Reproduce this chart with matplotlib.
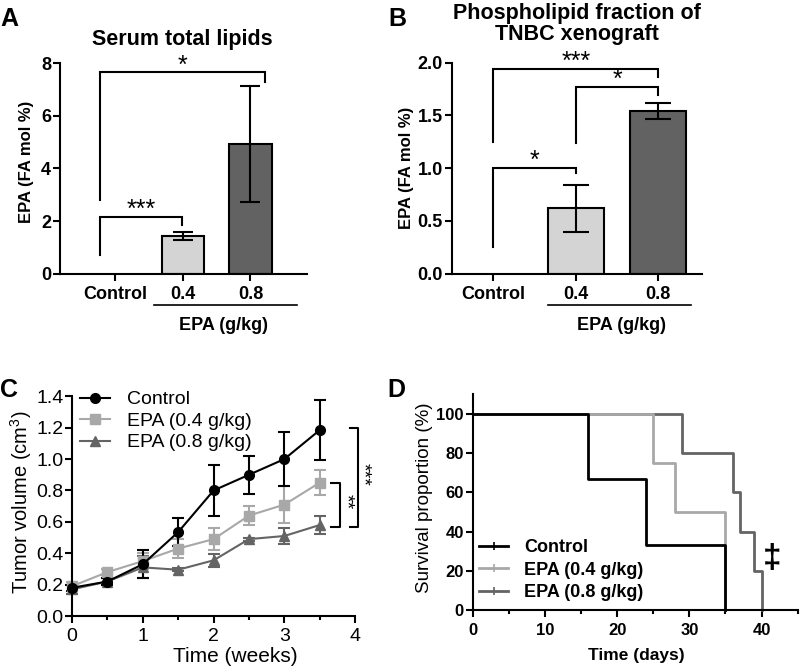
import matplotlib
matplotlib.use("Agg")
import matplotlib.pyplot as plt
from matplotlib.lines import Line2D
from matplotlib.ticker import MultipleLocator, FormatStrFormatter

plt.rcParams['font.family'] = ['Liberation Sans', 'DejaVu Sans']
plt.rcParams['mathtext.default'] = 'regular'
plt.rcParams['axes.linewidth'] = 1.5

# panel A / B : bars
groups = ["Control", "0.4", "0.8"]
serum_mean = [0.0, 1.42, 4.92]
serum_err = [0.0, 0.15, 2.2]
tnbc_mean = [0.0, 0.62, 1.545]
tnbc_err = [0.0, 0.22, 0.077]
bar_colors = ["white", "#d4d4d4", "#626262"]

# panel C : tumor volume
weeks = [0, 0.5, 1, 1.5, 2, 2.5, 3, 3.5]
vol_ctrl = [0.18, 0.22, 0.33, 0.535, 0.80, 0.90, 1.00, 1.185]
vol_ctrl_err = [0.02, 0.02, 0.09, 0.09, 0.16, 0.12, 0.17, 0.19]
vol_04 = [0.19, 0.28, 0.35, 0.43, 0.49, 0.64, 0.71, 0.85]
vol_04_err = [0.03, 0.02, 0.05, 0.06, 0.07, 0.06, 0.12, 0.08]
vol_08 = [0.17, 0.22, 0.31, 0.295, 0.355, 0.49, 0.51, 0.58]
vol_08_err = [0.03, 0.02, 0.07, 0.01, 0.04, 0.01, 0.05, 0.06]

# panel D : survival
days_ctrl = [0, 16, 24, 35]
surv_ctrl = [100, 66.7, 33.3, 0]
days_04 = [0, 25, 28, 35]
surv_04 = [100, 75, 50, 0]
days_08 = [0, 29, 36, 37, 39, 40]
surv_08 = [100, 80, 60, 40, 20, 0]

c_black = "black"
c_light = "#a8a8a8"
c_dark = "#646464"

fig = plt.figure(figsize=(8, 6.66), dpi=100)


def bracket(ax, x1, x2, y, y1, y2, text, fs=18):
    ax.plot([x1, x1, x2, x2], [y1, y, y, y2], color='k', lw=1.5,
            solid_joinstyle='miter', clip_on=False)
    ax.annotate(text, ((x1 + x2) / 2, y), xytext=(0, 0), textcoords='offset points',
                ha='center', va='baseline', fontsize=fs)


def bar_panel(ax, means, errs, capsize, width):
    x = range(len(groups))
    for i in x:
        if means[i] > 0:
            ax.bar(i, means[i], width=width, color=bar_colors[i], edgecolor='k',
                   linewidth=1.5, zorder=2)
            ax.errorbar(i, means[i], yerr=errs[i], color='k', capsize=capsize,
                        capthick=1.5, elinewidth=1.5, zorder=3)
    ax.set_xticks(list(x))
    ax.set_xticklabels(groups, fontweight='bold', fontsize=13)
    for s in ['top', 'right']:
        ax.spines[s].set_visible(False)
    ax.tick_params(width=1.5, length=5, labelsize=13)
    ax.tick_params(axis='x', pad=3.5)
    ax.tick_params(axis='y', pad=1.5)
    ax.set_ylabel("EPA (FA mol %)", fontsize=12, fontweight='bold')


# ---- A
axA = fig.add_axes([0.075, 0.589, 0.309, 0.316])
bar_panel(axA, serum_mean, serum_err, 7.5, 0.63)
axA.set_xlim(-0.82, 2.84)
axA.set_ylim(0, 8)
axA.set_yticks([0, 2, 4, 6, 8])
for t in axA.get_yticklabels():
    t.set_fontweight('bold')
axA.yaxis.set_label_coords(-0.105, 0.53)
bracket(axA, -0.23, 0.99, 2.16, 0.70, 1.87, "***")
bracket(axA, -0.23, 2.21, 7.65, 2.79, 7.29, "*")
axA.plot([0.57, 2.69], [-0.15, -0.15], color='k', lw=1.2,
         transform=axA.get_xaxis_transform(), clip_on=False)
axA.text(1.6, -0.245, "EPA (g/kg)", transform=axA.get_xaxis_transform(),
         ha='center', va='center', fontsize=13, fontweight='bold')
fig.text(182.5 / 800, 1 - 39 / 666, "Serum total lipids", fontsize=15.5,
         fontweight='bold', ha='center', va='center')

# ---- B
axB = fig.add_axes([0.565, 0.589, 0.3125, 0.317])
bar_panel(axB, tnbc_mean, tnbc_err, 9.5, 0.675)
axB.set_xlim(-0.5, 2.53)
axB.set_ylim(0, 2.0)
axB.set_yticks([0, 0.5, 1.0, 1.5, 2.0])
axB.yaxis.set_major_formatter(FormatStrFormatter('%.1f'))
for t in axB.get_yticklabels():
    t.set_fontweight('bold')
axB.yaxis.set_label_coords(-0.152, 0.5)
bracket(axB, 0, 1, 1.0, 0.25, 0.95, "*")
bracket(axB, 1, 2, 1.77, 1.24, 1.69, "*")
bracket(axB, 0, 2, 1.94, 1.25, 1.86, "***")
axB.plot([0.66, 2.40], [-0.15, -0.15], color='k', lw=1.2,
         transform=axB.get_xaxis_transform(), clip_on=False)
axB.text(1.56, -0.245, "EPA (g/kg)", transform=axB.get_xaxis_transform(),
         ha='center', va='center', fontsize=13, fontweight='bold')
fig.text(577 / 800, 1 - 24 / 666, "Phospholipid fraction of\nTNBC xenograft",
         fontsize=15.5, fontweight='bold', ha='center', va='center', linespacing=1.0)

# ---- C
axC = fig.add_axes([0.09, 0.075, 0.354, 0.33])
axC.errorbar(weeks, vol_08, yerr=vol_08_err, color=c_dark, marker='^', ms=7,
             lw=1.5, capsize=4, capthick=1.5, clip_on=False)
axC.errorbar(weeks, vol_04, yerr=vol_04_err, color=c_light, marker='s', ms=7,
             lw=1.5, capsize=4, capthick=1.5, clip_on=False)
axC.errorbar(weeks, vol_ctrl, yerr=vol_ctrl_err, color=c_black, marker='o', ms=7,
             lw=1.5, capsize=4, capthick=1.5, clip_on=False)
axC.set_xlim(0, 4)
axC.set_ylim(0, 1.4)
axC.xaxis.set_major_locator(MultipleLocator(1))
axC.xaxis.set_minor_locator(MultipleLocator(0.5))
axC.yaxis.set_major_locator(MultipleLocator(0.2))
axC.yaxis.set_major_formatter(FormatStrFormatter('%.1f'))
for s in ['top', 'right']:
    axC.spines[s].set_visible(False)
axC.tick_params(which='major', width=1.5, length=5, labelsize=14)
axC.tick_params(which='minor', width=1.5, length=3)
axC.tick_params(axis='y', pad=1)
axC.tick_params(axis='x', pad=3.5)
axC.set_ylabel("Tumor volume (cm$^3$)", fontsize=14.5)
axC.set_xlabel("Time (weeks)", fontsize=15)
axC.yaxis.set_label_coords(-0.135, 0.52)
axC.xaxis.set_label_coords(0.576, -0.14)
legC_h = [Line2D([], [], color=c_black, marker='o', ms=7, lw=1.5),
          Line2D([], [], color=c_light, marker='s', ms=7, lw=1.5),
          Line2D([], [], color=c_dark, marker='^', ms=7, lw=1.5)]
axC.legend(legC_h, ["Control", "EPA (0.4 g/kg)", "EPA (0.8 g/kg)"],
           loc='upper left', bbox_to_anchor=(0.03, 1.025),
           frameon=False, fontsize=14, labelspacing=0.2, handlelength=1.5,
           handletextpad=0.9, borderpad=0, borderaxespad=0)
# significance brackets right of the lines
for xs, xv, top, bot, txt, tx in [(3.92, 4.04, 1.2, 0.57, "***", 4.10),
                                  (3.66, 3.79, 0.85, 0.57, "**", 3.87)]:
    axC.plot([xs, xv, xv, xs], [top, top, bot, bot], color='k', lw=1.5, clip_on=False)
    axC.text(tx, (top + bot) / 2 + 0.02, txt, rotation=270, ha='center', va='center',
             fontsize=14)

# ---- D
axD = fig.add_axes([0.591, 0.084, 0.406, 0.324])
axD.step(days_08, surv_08, where='post', color=c_dark, lw=2, clip_on=False)
axD.step(days_04, surv_04, where='post', color=c_light, lw=2, clip_on=False)
axD.step(days_ctrl, surv_ctrl, where='post', color=c_black, lw=2, clip_on=False)
axD.set_xlim(0, 45)
axD.set_ylim(0, 110)
axD.set_yticks([0, 20, 40, 60, 80, 100])
axD.xaxis.set_major_locator(MultipleLocator(10))
axD.xaxis.set_minor_locator(MultipleLocator(5))
for s in ['top', 'right']:
    axD.spines[s].set_visible(False)
axD.tick_params(which='major', width=1.5, length=5, labelsize=12)
axD.tick_params(which='minor', width=1.5, length=3)
axD.tick_params(axis='y', pad=1.5)
axD.tick_params(axis='x', pad=4.5)
for t in axD.get_xticklabels() + axD.get_yticklabels():
    t.set_fontweight('bold')
axD.set_ylabel("Survival proportion (%)", fontsize=13.5)
axD.set_xlabel("Time (days)", fontsize=12.5, fontweight='bold')
axD.yaxis.set_label_coords(-0.123, 0.52)
axD.xaxis.set_label_coords(0.504, -0.176)
leg_h = [Line2D([], [], color=c, lw=2, marker='|', ms=6, mew=1.2)
         for c in [c_black, c_light, c_dark]]
legD = axD.legend(leg_h, ["Control", "EPA (0.4 g/kg)", "EPA (0.8 g/kg)"],
                  loc='lower left', bbox_to_anchor=(0.02, 0.04), frameon=False,
                  fontsize=13, labelspacing=0.32, handlelength=1.6,
                  handletextpad=0.9, borderpad=0, borderaxespad=0)
for t in legD.get_texts():
    t.set_fontweight('bold')
axD.text(41.5, 26.5, "\u2021", ha='center', va='center', fontsize=24, fontweight='bold')

# panel letters
for lab, x, y in [("A", 0.0, 0.99), ("B", 0.485, 0.99), ("C", 0.0, 0.432), ("D", 0.484, 0.432)]:
    fig.text(x, y, lab, fontsize=18, fontweight='bold', ha='left', va='top')

fig.savefig("out.png", dpi=100)
